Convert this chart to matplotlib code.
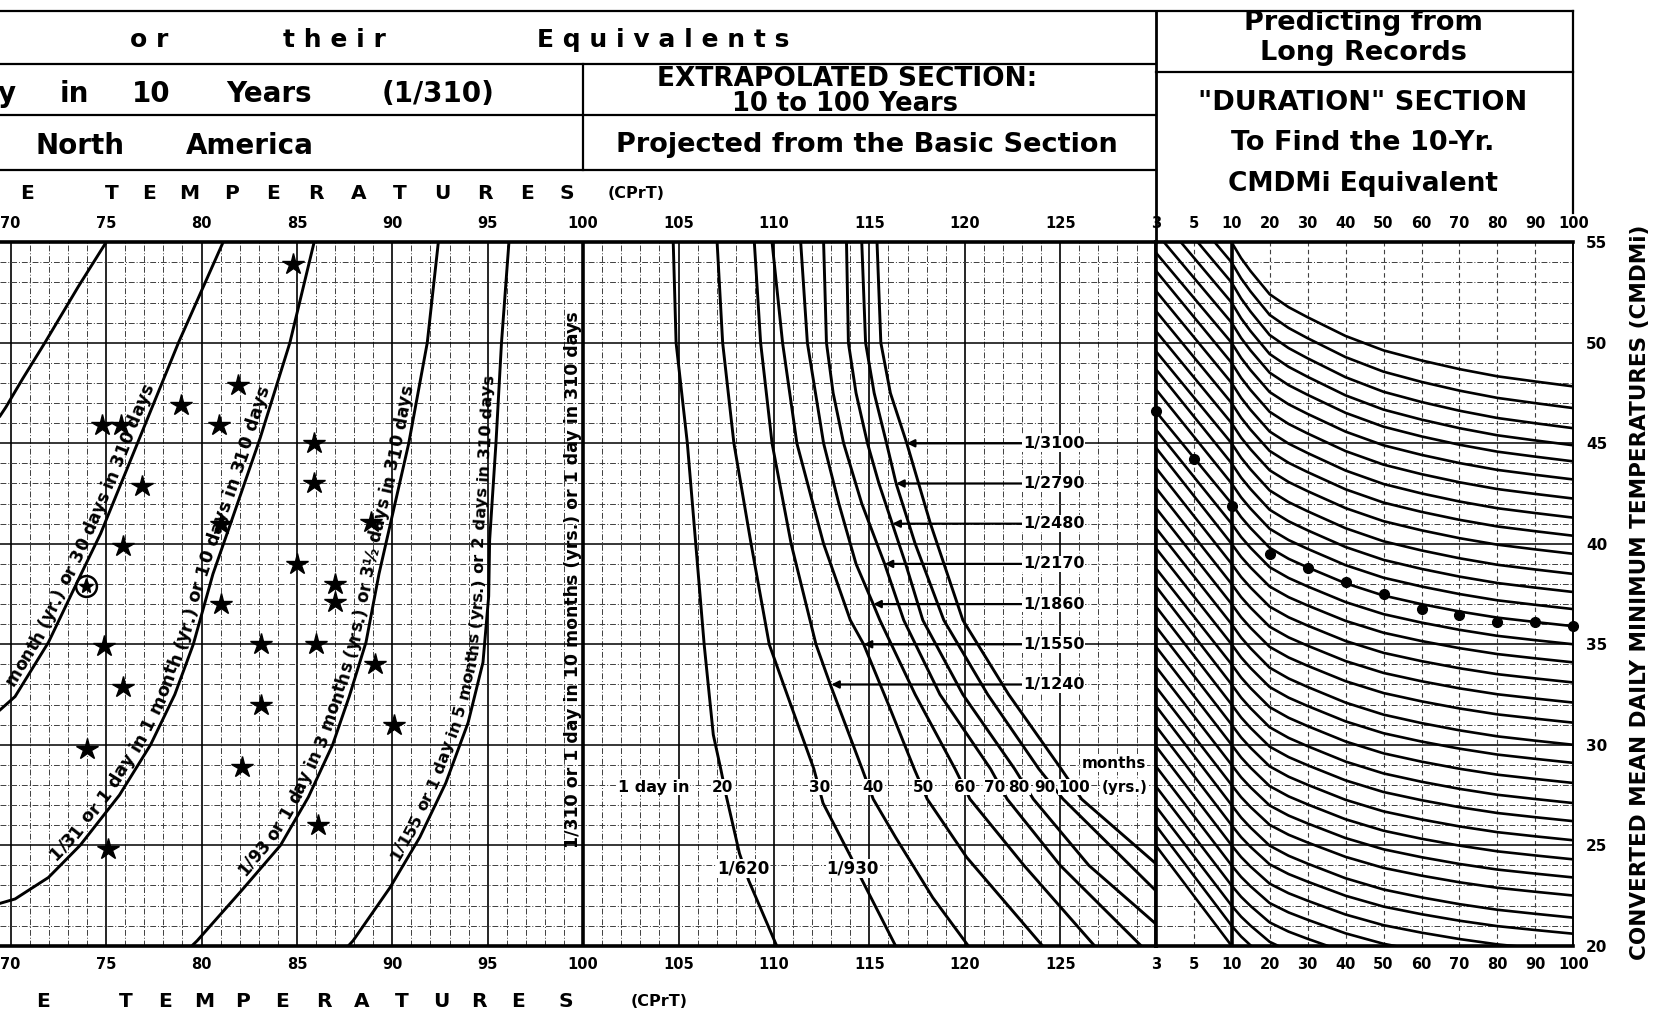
import numpy as np
import matplotlib
matplotlib.use("Agg")
import matplotlib.pyplot as plt
from matplotlib.lines import Line2D
from matplotlib.transforms import IdentityTransform
from matplotlib.textpath import TextToPath
from matplotlib.font_manager import FontProperties

plt.rcParams['font.family'] = ['DejaVu Sans']
plt.rcParams['font.weight'] = 'bold'

# ---------------- data ----------------
# basic section: frequency curves, CPrT (x) against CMDMi (y)
edge_x = [75.0, 73.54, 71.79, 70.62, 69.75, 69.4]
edge_y = [55.0, 52.79, 50.0, 48.2, 46.8, 46.3]

f10_x = [81.13, 78.79, 76.75, 74.71, 73.64, 71.98, 70.23, 69.4]
f10_y = [55.0, 50.0, 45.25, 40.5, 38.4, 35.1, 32.4, 31.7]

f31_x = [85.9, 84.63, 83.07, 81.52, 80.6, 79.57, 78.6, 77.33, 75.7, 73.64, 71.98, 70.23, 69.4]
f31_y = [55.0, 50.0, 45.25, 41.0, 38.5, 35.0, 32.5, 30.0, 27.5, 25.0, 23.4, 22.33, 22.1]

f93_x = [92.41, 91.83, 90.86, 89.9, 89.3, 88.62, 87.74, 86.87, 85.6, 84.14, 82.1, 79.77, 79.5]
f93_y = [55.0, 50.0, 45.0, 41.0, 38.5, 35.1, 32.4, 30.0, 27.4, 25.0, 22.75, 20.25, 20.0]

f155_x = [96.11, 95.72, 95.43, 95.1, 95.05, 94.75, 93.97, 92.8, 91.44, 89.88, 87.94, 87.7]
f155_y = [55.0, 50.0, 45.0, 40.2, 37.4, 34.1, 31.1, 28.1, 25.4, 22.9, 20.25, 20.0]

# plotted stations (stars) and the circled one
star_x = [84.8, 81.9, 78.9, 74.8, 75.8, 80.9, 85.9, 76.9, 85.9, 81.0, 88.9, 75.9, 85.0, 87.0,
          87.0, 81.0, 74.9, 83.1, 86.0, 89.1, 75.9, 83.1, 90.1, 74.0, 82.1, 86.1, 75.1]
star_y = [53.9, 47.9, 46.9, 45.9, 45.9, 45.9, 45.0, 42.9, 43.0, 41.0, 41.1, 39.9, 39.0, 38.0,
          37.1, 37.0, 34.9, 35.0, 35.0, 34.0, 32.9, 32.0, 31.0, 29.8, 28.9, 26.0, 24.8]
circled_x = [73.95]
circled_y = [37.9]

# extrapolated section: 1 day in N months
months = [20, 30, 40, 50, 60, 70, 80, 90, 100]
ext20_x = [104.72, 104.87, 105.46, 105.9, 106.34, 106.82, 107.21, 107.5, 108.19, 108.67, 110.14]
ext20_y = [55, 50, 45, 40, 35, 30.5, 28.8, 27.45, 24.6, 23.26, 20]
ext30_x = [107.02, 107.31, 107.9, 108.8, 109.75, 110.82, 112.09, 112.57, 114.04, 114.62, 116.37]
ext30_y = [55, 50, 45, 40, 35, 32.15, 28.8, 27.1, 24.4, 23.26, 20]
ext40_x = [108.97, 109.3, 109.9, 110.9, 112.2, 112.95, 114.62, 115.2, 116.37, 118.32, 120.18]
ext40_y = [55, 50, 45, 40, 35, 33, 28.8, 27.3, 25.4, 22.4, 20]
ext50_x = [109.9, 110.45, 111.2, 112.6, 114.0, 114.7, 116.0, 117.35, 118.03, 120.1, 124.07]
ext50_y = [55, 50, 45, 40, 36.2, 35, 32.0, 28.8, 27.3, 24.4, 20]
ext60_x = [111.4, 111.75, 112.6, 113.4, 114.3, 115.2, 115.55, 117.4, 119.49, 120.27, 123.1, 126.8]
ext60_y = [55, 50, 45, 42, 39, 37, 36.2, 32.5, 28.8, 27.3, 24, 20]
ext70_x = [112.6, 112.75, 113.1, 113.65, 114.6, 115.8, 116.8, 118.7, 121.35, 122.22, 125.0, 129.24]
ext70_y = [55, 50, 47.5, 45, 42, 39, 36.2, 32.5, 28.8, 27.3, 24, 20]
ext80_x = [113.8, 113.9, 114.3, 114.9, 115.5, 116.2, 116.9, 117.8, 119.9, 122.61, 123.59, 126.5, 130]
ext80_y = [55, 50, 47.5, 45, 43, 41, 39, 36.2, 32.5, 28.8, 27.3, 24, 21.1]
ext90_x = [114.6, 114.8, 115.25, 115.9, 116.4, 117.4, 118.9, 121.2, 123.88, 125.15, 130]
ext90_y = [55, 50, 47.5, 45, 43, 40, 36.2, 32.5, 28.8, 27.3, 22.75]
ext100_x = [115.4, 115.6, 116.1, 116.96, 118.2, 119.9, 122.3, 125.05, 126.12, 130]
ext100_y = [55, 50, 47.5, 45, 41, 36.2, 32.5, 28.8, 27.3, 24.1]

freq_labels = ['1/3100', '1/2790', '1/2480', '1/2170', '1/1860', '1/1550', '1/1240']
freq_y = [45, 43, 41, 39, 37, 35, 33]
freq_head_x = [116.96, 116.4, 116.2, 115.8, 115.2, 114.7, 113.0]

# duration section
dur_labels = ['3', '5', '10', '20', '30', '40', '50', '60', '70', '80', '90', '100']
dot_y = [46.6, 44.2, 41.9, 39.5, 38.8, 38.1, 37.5, 36.75, 36.45, 36.1, 36.1, 35.9]

diag_at10 = [59, 58, 57, 56, 55, 54, 53, 52, 51, 50, 49, 48, 47, 46, 45, 44, 43, 42, 41, 40,
             39, 38, 37, 36, 35, 34, 33, 32, 31, 30, 29, 28, 27, 26, 25, 24, 23, 22, 21, 20]
diag_at3 = [63.4, 62.4, 61.4, 60.4, 59.4, 58.5, 57.5, 56.5, 55.5, 54.5, 53.6, 52.6, 51.6, 50.6,
            49.6, 48.7, 47.7, 46.6, 45.7, 44.8, 43.8, 42.8, 41.8, 40.8, 39.8, 38.8, 37.9, 36.9,
            35.9, 34.9, 33.9, 32.9, 31.95, 30.95, 29.95, 28.95, 27.95, 26.95, 26.0, 25.0]

curve_at10 = [55, 54, 53, 52, 51, 50, 49, 48, 47, 46, 45, 44, 43, 42, 41, 40, 39, 38, 37, 36,
              35, 34, 33, 32, 31, 30, 29, 28, 27, 26, 25, 24, 23, 22, 21, 20]
curve_at100 = [47.83, 46.75, 45.75, 44.9, 44.1, 43.2, 42.25, 41.3, 40.4, 39.5, 38.5, 37.6,
               36.75, 35.9, 35.0, 34.1, 33.1, 32.1, 31.1, 30.0, 29.1, 28.1, 27.1, 26.2, 25.25,
               24.3, 23.4, 22.5, 21.4, 20.6, 19.7, 18.8, 17.9, 17.0, 16.1, 15.2]
# share of the 10->100 drop reached at each duration position
curve_pos = [2, 2.25, 2.5, 3, 3.5, 4, 5, 6, 7, 8, 9, 10, 11]
curve_frac = [0, 0.11, 0.2, 0.36, 0.45, 0.52, 0.65, 0.75, 0.82, 0.88, 0.93, 0.966, 1.0]

# ---------------- figure ----------------
W, H = 1568.0, 957.0          # layout measured on the reference at this size
fig = plt.figure(figsize=(16.67, 10.17), dpi=100)
fig.patch.set_facecolor('white')


def fx(px):
    return px / W


def fy(py):
    return 1 - py / H


top, bot = 228, 890
ax1 = fig.add_axes([0, fy(bot), fx(1087), (bot - top) / H])
ax2 = fig.add_axes([fx(1087), fy(bot), fx(1480) - fx(1087), (bot - top) / H])

ax1.set_xlim(69.44, 130)
ax1.set_ylim(20, 55)
ax2.set_xlim(0, 11)
ax2.set_ylim(20, 55)

minor_ls = (0, (6, 2, 1, 2))
for ax in (ax1, ax2):
    ax.set_axisbelow(True)
    ax.set_yticks(range(20, 56, 5))
    ax.set_yticks(range(20, 56), minor=True)
    ax.grid(which='major', axis='y', color='k', lw=1.1)
    ax.grid(which='minor', axis='y', color='0.25', lw=0.7, ls=minor_ls)
    for s in ('top', 'bottom'):
        ax.spines[s].set_linewidth(2.6)

ax1.set_xticks(range(70, 130, 5))
ax1.set_xticks(range(70, 130), minor=True)
ax1.set_xticklabels([str(v) for v in range(70, 130, 5)])
ax1.grid(which='major', axis='x', color='k', lw=1.2)
ax1.grid(which='minor', axis='x', color='0.25', lw=0.7, ls=minor_ls)
ax1.tick_params(axis='x', which='both', length=0, top=True, labeltop=True,
                labelbottom=True, labelsize=10.5, pad=8)
ax1.tick_params(axis='y', which='both', length=0, labelleft=False)
ax1.spines['left'].set_visible(False)
ax1.spines['right'].set_linewidth(2.6)

ax2.set_xticks(range(len(dur_labels)))
ax2.set_xticklabels(dur_labels)
ax2.grid(which='major', axis='x', color='0.25', lw=0.8, ls=(0, (4, 3)))
ax2.tick_params(axis='x', length=0, top=True, labeltop=True, labelbottom=True,
                labelsize=10.5, pad=8)
ax2.yaxis.tick_right()
ax2.tick_params(axis='y', which='both', length=0, labelsize=11, pad=9)
ax2.spines['left'].set_linewidth(2.6)
ax2.spines['right'].set_linewidth(1.4)
ax2.axvline(2, color='k', lw=2.6)

# ---- basic section ----
lw_c = 2.1
for xs, ys in [(edge_x, edge_y), (f10_x, f10_y), (f31_x, f31_y), (f93_x, f93_y), (f155_x, f155_y)]:
    ax1.plot(xs, ys, color='k', lw=lw_c, solid_capstyle='butt')
ax1.axvline(100, color='k', lw=2.6)

ax1.plot(star_x, star_y, '*', color='k', ms=16, mec='k', zorder=4)
ax1.plot(circled_x, circled_y, '*', color='k', ms=11, zorder=4)
ax1.plot(circled_x, circled_y, 'o', mfc='none', mec='k', ms=15, mew=1.8, zorder=4)

t2p = TextToPath()


def advance(ch, prop):
    # width a character takes in a line of text, in points
    w2 = t2p.get_text_width_height_descent('||', prop, ismath=False)[0]
    w3 = t2p.get_text_width_height_descent('|' + ch + '|', prop, ismath=False)[0]
    return w3 - w2


def text_on_curve(ax, xs, ys, text, y_start, base_off=4.5, size=12):
    """Write text letter by letter along a curve, on its upper-left side."""
    prop = FontProperties(family='DejaVu Sans', weight='bold', size=size)
    xa, ya = np.asarray(xs, float), np.asarray(ys, float)
    order = np.argsort(ya)
    yy = np.linspace(ya.min(), ya.max(), 600)
    xx = np.interp(yy, ya[order], xa[order])
    pts = ax.transData.transform(np.column_stack([xx, yy]))
    arc = np.concatenate([[0], np.cumsum(np.hypot(*np.diff(pts, axis=0).T))])
    k = fig.dpi / 72.0
    pos = np.interp(y_start, yy, arc)
    for ch in text:
        adv = advance(ch, prop) * k
        c = pos + adv / 2
        px = np.interp(c, arc, pts[:, 0])
        py = np.interp(c, arc, pts[:, 1])
        qx0, qy0 = np.interp(c - 4, arc, pts[:, 0]), np.interp(c - 4, arc, pts[:, 1])
        qx1, qy1 = np.interp(c + 4, arc, pts[:, 0]), np.interp(c + 4, arc, pts[:, 1])
        dx, dy = qx1 - qx0, qy1 - qy0
        nrm = np.hypot(dx, dy)
        nx, ny = -dy / nrm, dx / nrm
        ang = np.degrees(np.arctan2(dy, dx))
        ax.text(px + nx * base_off * k, py + ny * base_off * k, ch,
                transform=IdentityTransform(), rotation=ang, rotation_mode='anchor',
                ha='center', va='baseline', fontproperties=prop, zorder=6)
        pos += adv


text_on_curve(ax1, f10_x, f10_y, 'month (yr.) or 30 days in 310 days', 32.7, size=12.3)
text_on_curve(ax1, f31_x, f31_y, '1/31 or 1 day in 1 month (yr.) or 10 days in 310 days', 24.0,
              size=12.8)
text_on_curve(ax1, f93_x, f93_y, '1/93 or 1 day in 3 months (yrs.) or 3½ days in 310 days', 23.2,
              size=12.2)
text_on_curve(ax1, f155_x, f155_y, '1/155 or 1 day in 5 months (yrs.) or 2 days in 310 days', 24.0,
              size=11.8)
ax1.text(99.45, 38.2, '1/310 or 1 day in 10 months (yrs.) or 1 day in 310 days',
         rotation=90, ha='center', va='center', fontsize=12.5)

# ---- extrapolated section ----
ext_curves = [(ext20_x, ext20_y), (ext30_x, ext30_y), (ext40_x, ext40_y), (ext50_x, ext50_y),
              (ext60_x, ext60_y), (ext70_x, ext70_y), (ext80_x, ext80_y), (ext90_x, ext90_y),
              (ext100_x, ext100_y)]
for xs, ys in ext_curves:
    ax1.plot(xs, ys, color='k', lw=lw_c)

wbox = dict(facecolor='white', edgecolor='none', pad=0.6)
month_lab_x = [107.3, 112.4, 115.2, 117.85, 119.98, 121.55, 122.85, 124.2, 125.75]
for m, xl in zip(months, month_lab_x):
    ax1.text(xl, 27.9, str(m), ha='center', va='center', fontsize=11, bbox=wbox, zorder=5)
ax1.text(103.7, 27.9, '1 day in', ha='center', va='center', fontsize=11.5, bbox=wbox, zorder=5)
ax1.text(128.4, 27.9, '(yrs.)', ha='center', va='center', fontsize=11, bbox=wbox, zorder=5)
ax1.text(127.8, 29.05, 'months', ha='center', va='center', fontsize=11, bbox=wbox, zorder=5)
ax1.text(108.4, 23.85, '1/620', ha='center', va='center', fontsize=12, bbox=wbox, zorder=5)
ax1.text(114.13, 23.85, '1/930', ha='center', va='center', fontsize=12, bbox=wbox, zorder=5)

for lab, yv, hx in zip(freq_labels, freq_y, freq_head_x):
    ax1.annotate('', xy=(hx, yv), xytext=(123.0, yv),
                 arrowprops=dict(arrowstyle='-|>', color='k', lw=1.6, mutation_scale=11,
                                 shrinkA=0, shrinkB=0))
    ax1.text(123.05, yv, lab, ha='left', va='center', fontsize=11.5, bbox=wbox, zorder=5)

# ---- duration section ----
for v10, v3 in zip(diag_at10, diag_at3):
    ax2.plot([0, 2], [v3, v10], color='k', lw=1.9)
for v10, v100 in zip(curve_at10, curve_at100):
    ys = [v10 - (v10 - v100) * f for f in curve_frac]
    ax2.plot(curve_pos, ys, color='k', lw=1.9)
ax2.plot(range(len(dot_y)), dot_y, 'o', color='k', ms=7, clip_on=False, zorder=6)


# ---------------- header boxes and titles ----------------
def hline(y, x0, x1, lw=1.6):
    fig.add_artist(Line2D([fx(x0), fx(x1)], [fy(y), fy(y)], transform=fig.transFigure,
                          color='k', lw=lw))


def vline(x, y0, y1, lw=1.6):
    fig.add_artist(Line2D([fx(x), fx(x)], [fy(y0), fy(y1)], transform=fig.transFigure,
                          color='k', lw=lw))


def label(px, py, s, size, **kw):
    fig.text(fx(px), fy(py), s, fontsize=size, ha='center', va='center',
             fontweight='bold', **kw)


hline(10, 0, 1480)
hline(60, 0, 1087)
hline(68, 1087, 1480)
hline(108, 0, 1087)
hline(160, 0, 1087)
vline(548, 60, 160)
vline(1087, 10, top, lw=2.0)
vline(1480, 10, 200)

label(140, 38, 'o r', 18)
label(315, 38, 't h e i r', 18)
label(624, 38, 'E q u i v a l e n t s', 18)
label(6, 88, 'y', 20)
label(70, 88, 'in', 20)
label(142, 88, '10', 20)
label(253, 88, 'Years', 20)
label(412, 88, '(1/310)', 20)
label(75, 137, 'North', 20)
label(235, 137, 'America', 20)
label(797, 74, 'EXTRAPOLATED SECTION:', 19)
label(795, 98, '10 to 100 Years', 18.5)
label(815, 136, 'Projected from the Basic Section', 19.5)
label(1282, 22, 'Predicting from', 19.5)
label(1282, 50, 'Long Records', 19.5)
label(1282, 97, '"DURATION" SECTION', 19.5)
label(1282, 135, 'To Find the 10-Yr.', 19.5)
label(1282, 173, 'CMDMi Equivalent', 19)

title_chars = list('ETEMPERATURES')
top_char_x = [25, 105, 140, 178, 218, 257, 297, 337, 376, 416, 456, 496, 533]
bot_char_x = [40, 118, 155, 192, 228, 265, 305, 340, 378, 415, 450, 487, 532]
for c, xt, xb in zip(title_chars, top_char_x, bot_char_x):
    label(xt, 182, c, 14.5)
    label(xb, 942, c, 14.5)
label(598, 182, '(CPrT)', 11.5)
label(620, 942, '(CPrT)', 11.5)

label(1543, 557, 'CONVERTED MEAN DAILY MINIMUM TEMPERATURES (CMDMi)', 15.5, rotation=90)

fig.savefig('out.png', dpi=100, facecolor='white')
